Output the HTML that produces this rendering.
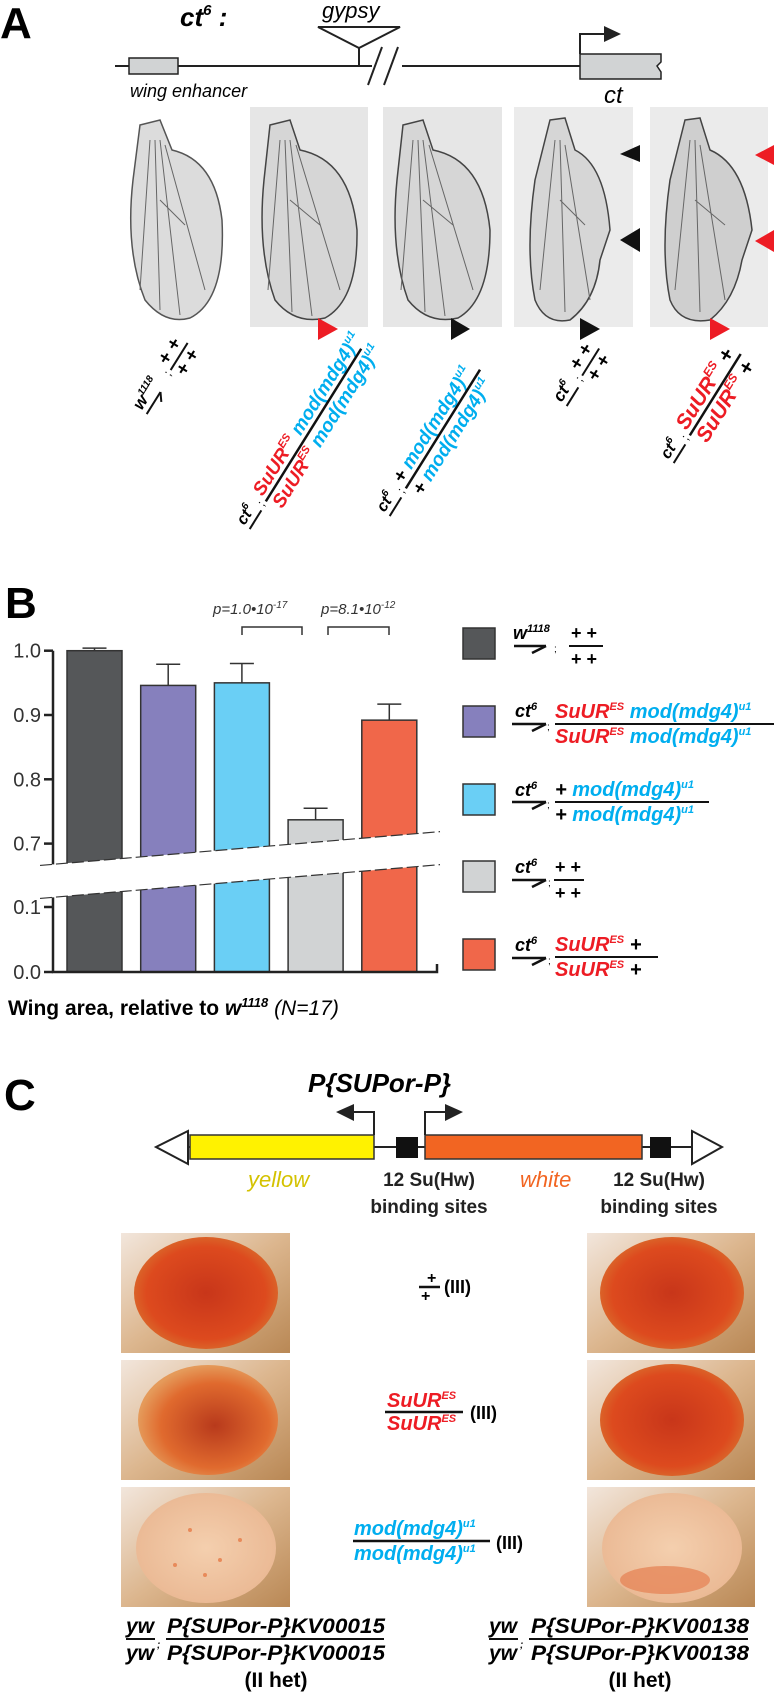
<!DOCTYPE html>
<html><head><meta charset="utf-8"><style>
html,body{margin:0;padding:0;background:#fff}
svg{display:block;font-family:"Liberation Sans",sans-serif}
.bi{font-weight:bold;font-style:italic}
.r{fill:#ed1c24}.c{fill:#00aeef}
</style></head><body>
<svg id="fig" width="774" height="1693" viewBox="0 0 774 1693" xmlns="http://www.w3.org/2000/svg">
<defs>
<radialGradient id="eyeRed" cx="50%" cy="50%" r="55%"><stop offset="0" stop-color="#c8361a"/><stop offset="0.75" stop-color="#dd4a1e"/><stop offset="1" stop-color="#d9702e"/></radialGradient>
<radialGradient id="eyeMid" cx="55%" cy="55%" r="55%"><stop offset="0" stop-color="#b83a1c"/><stop offset="0.7" stop-color="#e06a2e"/><stop offset="1" stop-color="#e59a5a"/></radialGradient>
<radialGradient id="eyePale" cx="50%" cy="50%" r="55%"><stop offset="0" stop-color="#f4cfae"/><stop offset="1" stop-color="#eab893"/></radialGradient>
<linearGradient id="bgEye" x1="0" y1="0" x2="1" y2="1"><stop offset="0" stop-color="#f2e6dc"/><stop offset="0.5" stop-color="#dcb68e"/><stop offset="1" stop-color="#b98855"/></linearGradient>
</defs>

<!-- ===== Panel A ===== -->
<g>
<text x="0" y="38" font-size="44" font-weight="bold">A</text>
<text x="180" y="26" class="bi" font-size="26">ct<tspan font-size="15" dy="-11">6</tspan><tspan dy="11"> :</tspan></text>
<text x="322" y="18" font-style="italic" font-size="22">gypsy</text>
<path d="M318 27 L400 27 L359 48 Z" fill="none" stroke="#222" stroke-width="2"/>
<line x1="359" y1="48" x2="359" y2="66" stroke="#222" stroke-width="2"/>
<line x1="115" y1="66" x2="580" y2="66" stroke="#222" stroke-width="2"/>
<rect x="372" y="58" width="30" height="18" fill="#fff"/>
<line x1="368" y1="85" x2="382" y2="47" stroke="#222" stroke-width="2"/>
<line x1="384" y1="85" x2="398" y2="47" stroke="#222" stroke-width="2"/>
<rect x="129" y="58" width="49" height="16" fill="#d1d3d4" stroke="#222" stroke-width="1.5"/>
<text x="130" y="97" font-style="italic" font-size="18">wing enhancer</text>
<path d="M580 54 L661 54 L661 62 L657 66 L661 72 L661 79 L580 79 Z" fill="#d1d3d4" stroke="#222" stroke-width="1.5"/>
<path d="M580 54 L580 34 L606 34" fill="none" stroke="#222" stroke-width="2"/>
<path d="M604 26 L621 34 L604 42 Z" fill="#222"/>
<text x="604" y="103" font-style="italic" font-size="24">ct</text>

<!-- wings -->
<g>
<path d="M140 125 L160 120 L172 150 Q215 160 222 220 Q226 300 190 318 Q165 325 145 300 Q125 250 133 180 Z" fill="#dcdcdc" stroke="#555" stroke-width="1.5"/>
<path d="M150 140 L140 290 M155 140 L160 310 M160 140 L180 315 M165 145 L205 290 M160 200 L185 225" stroke="#666" fill="none"/>
</g>
<g>
<rect x="250" y="107" width="118" height="220" fill="#e6e6e6"/>
<path d="M270 125 L290 120 L300 150 Q350 160 357 230 Q358 300 325 318 Q295 325 275 300 Q257 250 264 180 Z" fill="#d6d6d6" stroke="#444" stroke-width="1.5"/>
<path d="M280 140 L268 290 M285 140 L292 312 M290 140 L312 316 M296 145 L340 290 M290 200 L320 225" stroke="#666" fill="none"/>
</g>
<g>
<rect x="383" y="107" width="119" height="220" fill="#e6e6e6"/>
<path d="M403 125 L423 120 L433 150 Q483 160 490 230 Q490 300 458 318 Q428 325 408 300 Q390 250 397 180 Z" fill="#d6d6d6" stroke="#444" stroke-width="1.5"/>
<path d="M413 140 L401 290 M418 140 L425 312 M423 140 L445 316 M429 145 L473 290 M423 200 L453 225" stroke="#666" fill="none"/>
</g>
<g>
<rect x="514" y="107" width="119" height="220" fill="#ebebeb"/>
<path d="M550 120 L565 118 L575 150 Q605 165 610 230 L600 260 Q596 300 570 320 Q545 325 535 300 Q525 250 535 180 Z" fill="#d6d6d6" stroke="#444" stroke-width="1.5"/>
<path d="M555 140 L540 290 M560 140 L565 312 M565 145 L590 300 M560 200 L585 225" stroke="#666" fill="none"/>
<path d="M640 145 L620 154 L640 162 Z" fill="#111"/>
<path d="M640 228 L620 240 L640 252 Z" fill="#111"/>
</g>
<g>
<rect x="650" y="107" width="118" height="220" fill="#ebebeb"/>
<path d="M685 120 L700 118 L710 150 Q745 165 752 230 L742 260 Q735 300 710 320 Q680 325 670 300 Q660 250 670 180 Z" fill="#cfcfcf" stroke="#444" stroke-width="1.5"/>
<path d="M690 140 L675 290 M695 140 L700 312 M700 145 L725 300 M695 200 L725 225" stroke="#666" fill="none"/>
<path d="M774 145 L755 155 L774 165 Z" fill="#ed1c24"/>
<path d="M774 230 L755 241 L774 252 Z" fill="#ed1c24"/>
</g>
<path d="M318 318 L338 329 L318 340 Z" fill="#ed1c24"/>
<path d="M451 318 L470 329 L451 340 Z" fill="#111"/>
<path d="M580 318 L600 329 L580 340 Z" fill="#111"/>
<path d="M710 318 L730 329 L710 340 Z" fill="#ed1c24"/>

<!-- rotated genotype labels -->
<g transform="translate(145,413) rotate(-58)">
<text x="0" y="-4" class="bi" font-size="17">w<tspan font-size="10" dy="-7">1118</tspan></text>
<line x1="0" y1="2" x2="26" y2="2" stroke="#111" stroke-width="2"/><line x1="26" y1="2" x2="18" y2="8" stroke="#111" stroke-width="2"/>
<text x="44" y="2" font-size="12">;</text>
<text x="52" y="-6" font-weight="bold" font-size="19">+ +</text>
<line x1="50" y1="-1" x2="82" y2="-1" stroke="#111" stroke-width="2"/>
<text x="52" y="15" font-weight="bold" font-size="19">+ +</text>
</g>
<g transform="translate(248,528) rotate(-58)">
<text x="0" y="-4" class="bi" font-size="16">ct<tspan font-size="10" dy="-7">6</tspan></text>
<line x1="0" y1="2" x2="22" y2="2" stroke="#111" stroke-width="2"/>
<text x="26" y="2" font-size="12">;</text>
<text x="34" y="-4" class="bi" font-size="19"><tspan class="r">SuUR<tspan font-size="11" dy="-8">ES</tspan></tspan><tspan class="c" dy="8"> mod(mdg4)<tspan font-size="11" dy="-8">u1</tspan></tspan></text>
<line x1="32" y1="1" x2="212" y2="1" stroke="#111" stroke-width="2.5"/>
<text x="34" y="19" class="bi" font-size="19"><tspan class="r">SuUR<tspan font-size="11" dy="-8">ES</tspan></tspan><tspan class="c" dy="8"> mod(mdg4)<tspan font-size="11" dy="-8">u1</tspan></tspan></text>
</g>
<g transform="translate(388,515) rotate(-58)">
<text x="0" y="-4" class="bi" font-size="16">ct<tspan font-size="10" dy="-7">6</tspan></text>
<line x1="0" y1="2" x2="22" y2="2" stroke="#111" stroke-width="2"/>
<text x="26" y="2" font-size="12">;</text>
<text x="34" y="-4" class="bi" font-size="19"><tspan>+ </tspan><tspan class="c">mod(mdg4)<tspan font-size="11" dy="-8">u1</tspan></tspan></text>
<line x1="32" y1="1" x2="172" y2="1" stroke="#111" stroke-width="2.5"/>
<text x="34" y="19" class="bi" font-size="19"><tspan>+ </tspan><tspan class="c">mod(mdg4)<tspan font-size="11" dy="-8">u1</tspan></tspan></text>
</g>
<g transform="translate(565,405) rotate(-58)">
<text x="0" y="-4" class="bi" font-size="17">ct<tspan font-size="10" dy="-7">6</tspan></text>
<line x1="0" y1="2" x2="22" y2="2" stroke="#111" stroke-width="2"/>
<text x="28" y="2" font-size="12">;</text>
<text x="36" y="-6" font-weight="bold" font-size="19">+ +</text>
<line x1="34" y1="-1" x2="66" y2="-1" stroke="#111" stroke-width="2"/>
<text x="36" y="15" font-weight="bold" font-size="19">+ +</text>
</g>
<g transform="translate(672,462) rotate(-58)">
<text x="0" y="-4" class="bi" font-size="16">ct<tspan font-size="10" dy="-7">6</tspan></text>
<line x1="0" y1="2" x2="22" y2="2" stroke="#111" stroke-width="2"/>
<text x="26" y="2" font-size="12">;</text>
<text x="34" y="-4" class="bi" font-size="21"><tspan class="r">SuUR<tspan font-size="12" dy="-9">ES</tspan></tspan><tspan dy="9"> +</tspan></text>
<line x1="32" y1="1" x2="128" y2="1" stroke="#111" stroke-width="2.5"/>
<text x="34" y="20" class="bi" font-size="21"><tspan class="r">SuUR<tspan font-size="12" dy="-9">ES</tspan></tspan><tspan dy="9"> +</tspan></text>
</g>
</g>

<!-- ===== Panel B ===== -->
<g>
<text x="5" y="618" font-size="44" font-weight="bold">B</text>
<g id="chart"></g>
<text x="213" y="614" font-style="italic" font-size="15" fill="#333">p=1.0•10<tspan font-size="10" dy="-6">-17</tspan></text>
<path d="M242 635 L242 627 L302 627 L302 635" fill="none" stroke="#333" stroke-width="1.5"/>
<text x="321" y="614" font-style="italic" font-size="15" fill="#333">p=8.1•10<tspan font-size="10" dy="-6">-12</tspan></text>
<path d="M328 635 L328 627 L389 627 L389 635" fill="none" stroke="#333" stroke-width="1.5"/>
<text x="8" y="1015" font-weight="bold" font-size="21">Wing area, relative to <tspan font-style="italic">w<tspan font-size="13" dy="-8">1118</tspan></tspan><tspan dy="8" font-weight="normal" font-style="italic"> (N=17)</tspan></text>

<!-- legend -->
<g>
<g>
<rect x="463" y="628" width="32" height="31" fill="#555759" stroke="#333" stroke-width="1.5"/>
<text x="513" y="639" class="bi" font-size="18">w<tspan font-size="11" dy="-7">1118</tspan></text>
<line x1="514" y1="646" x2="546" y2="646" stroke="#111" stroke-width="2.5"/><line x1="546" y1="646" x2="532" y2="653" stroke="#111" stroke-width="2.5"/>
<text x="554" y="652" font-size="10">;</text>
<text x="571" y="639" font-weight="bold" font-size="18">+ +</text>
<line x1="569" y1="646" x2="603" y2="646" stroke="#111" stroke-width="2"/>
<text x="571" y="665" font-weight="bold" font-size="18">+ +</text>
</g>
<g>
<rect x="463" y="706" width="32" height="31" fill="#8680bd" stroke="#333" stroke-width="1.5"/>
<text x="515" y="717" class="bi" font-size="18">ct<tspan font-size="11" dy="-7">6</tspan></text>
<line x1="512" y1="724" x2="546" y2="724" stroke="#111" stroke-width="2.5"/><line x1="546" y1="724" x2="532" y2="731" stroke="#111" stroke-width="2.5"/>
<text x="547" y="730" font-size="10">;</text>
<text x="555" y="718" class="bi" font-size="20"><tspan class="r">SuUR<tspan font-size="11" dy="-8">ES</tspan></tspan><tspan class="c" dy="8"> mod(mdg4)<tspan font-size="11" dy="-8">u1</tspan></tspan></text>
<line x1="555" y1="724" x2="774" y2="724" stroke="#111" stroke-width="2"/>
<text x="555" y="743" class="bi" font-size="20"><tspan class="r">SuUR<tspan font-size="11" dy="-8">ES</tspan></tspan><tspan class="c" dy="8"> mod(mdg4)<tspan font-size="11" dy="-8">u1</tspan></tspan></text>
</g>
<g>
<rect x="463" y="784" width="32" height="31" fill="#6acff5" stroke="#333" stroke-width="1.5"/>
<text x="515" y="796" class="bi" font-size="18">ct<tspan font-size="11" dy="-7">6</tspan></text>
<line x1="512" y1="802" x2="546" y2="802" stroke="#111" stroke-width="2.5"/><line x1="546" y1="802" x2="532" y2="809" stroke="#111" stroke-width="2.5"/>
<text x="547" y="808" font-size="10">;</text>
<text x="555" y="796" class="bi" font-size="20">+ <tspan class="c">mod(mdg4)<tspan font-size="11" dy="-8">u1</tspan></tspan></text>
<line x1="555" y1="802" x2="709" y2="802" stroke="#111" stroke-width="2"/>
<text x="555" y="821" class="bi" font-size="20">+ <tspan class="c">mod(mdg4)<tspan font-size="11" dy="-8">u1</tspan></tspan></text>
</g>
<g>
<rect x="463" y="861" width="32" height="31" fill="#d1d3d4" stroke="#333" stroke-width="1.5"/>
<text x="515" y="873" class="bi" font-size="18">ct<tspan font-size="11" dy="-7">6</tspan></text>
<line x1="512" y1="880" x2="546" y2="880" stroke="#111" stroke-width="2.5"/><line x1="546" y1="880" x2="532" y2="887" stroke="#111" stroke-width="2.5"/>
<text x="548" y="886" font-size="10">;</text>
<text x="555" y="873" font-weight="bold" font-size="18">+ +</text>
<line x1="554" y1="880" x2="584" y2="880" stroke="#111" stroke-width="2"/>
<text x="555" y="899" font-weight="bold" font-size="18">+ +</text>
</g>
<g>
<rect x="463" y="939" width="32" height="31" fill="#f0674a" stroke="#333" stroke-width="1.5"/>
<text x="515" y="951" class="bi" font-size="18">ct<tspan font-size="11" dy="-7">6</tspan></text>
<line x1="512" y1="958" x2="546" y2="958" stroke="#111" stroke-width="2.5"/><line x1="546" y1="958" x2="532" y2="965" stroke="#111" stroke-width="2.5"/>
<text x="548" y="964" font-size="10">;</text>
<text x="555" y="951" class="bi" font-size="20"><tspan class="r">SuUR<tspan font-size="11" dy="-8">ES</tspan></tspan><tspan dy="8"> +</tspan></text>
<line x1="555" y1="957" x2="658" y2="957" stroke="#111" stroke-width="2"/>
<text x="555" y="976" class="bi" font-size="20"><tspan class="r">SuUR<tspan font-size="11" dy="-8">ES</tspan></tspan><tspan dy="8"> +</tspan></text>
</g>
</g>
</g>

<!-- ===== Panel C ===== -->
<g>
<text x="4" y="1110" font-size="44" font-weight="bold">C</text>
<text x="308" y="1092" class="bi" font-size="26">P{SUPor-P}</text>
<line x1="163" y1="1147" x2="715" y2="1147" stroke="#222" stroke-width="2"/>
<path d="M188 1131 L188 1164 L156 1147 Z" fill="#fff" stroke="#222" stroke-width="2"/>
<path d="M692 1131 L692 1164 L722 1147 Z" fill="#fff" stroke="#222" stroke-width="2"/>
<rect x="190" y="1135" width="184" height="24" fill="#fff200" stroke="#333" stroke-width="1.5"/>
<rect x="396" y="1137" width="22" height="21" fill="#111"/>
<rect x="425" y="1135" width="217" height="24" fill="#f26522" stroke="#333" stroke-width="1.5"/>
<rect x="650" y="1137" width="21" height="21" fill="#111"/>
<path d="M374 1135 L374 1112 L352 1112" fill="none" stroke="#222" stroke-width="2"/>
<path d="M354 1104 L336 1112 L354 1121 Z" fill="#222"/>
<path d="M425 1135 L425 1112 L447 1112" fill="none" stroke="#222" stroke-width="2"/>
<path d="M445 1104 L463 1112 L445 1121 Z" fill="#222"/>
<text x="248" y="1187" font-style="italic" font-size="22" fill="#d4c200">yellow</text>
<text x="520" y="1187" font-style="italic" font-size="22" fill="#f26522">white</text>
<g font-weight="bold" font-size="19" text-anchor="middle" fill="#222">
<text x="429" y="1186">12 Su(Hw)</text>
<text x="429" y="1213">binding sites</text>
<text x="659" y="1186">12 Su(Hw)</text>
<text x="659" y="1213">binding sites</text>
</g>

<!-- eyes -->
<g>
<g><rect x="121" y="1233" width="169" height="120" fill="url(#bgEye)"/><ellipse cx="206" cy="1293" rx="72" ry="56" fill="url(#eyeRed)"/></g>
<g><rect x="587" y="1233" width="168" height="120" fill="url(#bgEye)"/><ellipse cx="672" cy="1293" rx="72" ry="56" fill="url(#eyeRed)"/></g>
<g><rect x="121" y="1360" width="169" height="120" fill="url(#bgEye)"/><ellipse cx="208" cy="1420" rx="70" ry="55" fill="url(#eyeMid)"/></g>
<g><rect x="587" y="1360" width="168" height="120" fill="url(#bgEye)"/><ellipse cx="672" cy="1420" rx="72" ry="56" fill="url(#eyeRed)"/></g>
<g><rect x="121" y="1487" width="169" height="120" fill="url(#bgEye)"/><ellipse cx="206" cy="1548" rx="70" ry="55" fill="url(#eyePale)"/>
<circle cx="190" cy="1530" r="2" fill="#e88a5a"/><circle cx="220" cy="1560" r="2" fill="#e88a5a"/><circle cx="175" cy="1565" r="2" fill="#e88a5a"/><circle cx="240" cy="1540" r="2" fill="#e88a5a"/><circle cx="205" cy="1575" r="2" fill="#e88a5a"/></g>
<g><rect x="587" y="1487" width="168" height="120" fill="url(#bgEye)"/><ellipse cx="672" cy="1548" rx="70" ry="55" fill="url(#eyePale)"/><ellipse cx="665" cy="1580" rx="45" ry="14" fill="#e6875a" opacity="0.8"/></g>
</g>

<g>
<text x="427" y="1283" font-weight="bold" font-size="16">+</text>
<line x1="419" y1="1287" x2="440" y2="1287" stroke="#111" stroke-width="2.5"/>
<text x="421" y="1301" font-weight="bold" font-size="16">+</text>
<text x="444" y="1293" font-weight="bold" font-size="18">(III)</text>
</g>
<g>
<text x="387" y="1407" class="bi r" font-size="20">SuUR<tspan font-size="11" dy="-8">ES</tspan></text>
<line x1="385" y1="1412" x2="463" y2="1412" stroke="#111" stroke-width="2.5"/>
<text x="387" y="1430" class="bi r" font-size="20">SuUR<tspan font-size="11" dy="-8">ES</tspan></text>
<text x="470" y="1419" font-weight="bold" font-size="18">(III)</text>
</g>
<g>
<text x="354" y="1535" class="bi c" font-size="20">mod(mdg4)<tspan font-size="11" dy="-8">u1</tspan></text>
<line x1="353" y1="1541" x2="490" y2="1541" stroke="#111" stroke-width="2.5"/>
<text x="354" y="1560" class="bi c" font-size="20">mod(mdg4)<tspan font-size="11" dy="-8">u1</tspan></text>
<text x="496" y="1549" font-weight="bold" font-size="18">(III)</text>
</g>

<g class="bi" font-size="21">
<text x="126" y="1633">yw</text><line x1="126" y1="1639" x2="155" y2="1639" stroke="#111" stroke-width="2"/><text x="126" y="1660">yw</text>
<text x="157" y="1648" font-size="10">;</text>
<text x="167" y="1633" textLength="218" lengthAdjust="spacingAndGlyphs">P{SUPor-P}KV00015</text>
<line x1="166" y1="1639" x2="384" y2="1639" stroke="#111" stroke-width="2"/>
<text x="167" y="1660" textLength="218" lengthAdjust="spacingAndGlyphs">P{SUPor-P}KV00015</text>
<text x="276" y="1687" text-anchor="middle" font-style="normal" font-size="21">(II het)</text>
</g>
<g class="bi" font-size="21">
<text x="489" y="1633">yw</text><line x1="489" y1="1639" x2="518" y2="1639" stroke="#111" stroke-width="2"/><text x="489" y="1660">yw</text>
<text x="520" y="1648" font-size="10">;</text>
<text x="531" y="1633" textLength="218" lengthAdjust="spacingAndGlyphs">P{SUPor-P}KV00138</text>
<line x1="529" y1="1639" x2="748" y2="1639" stroke="#111" stroke-width="2"/>
<text x="531" y="1660" textLength="218" lengthAdjust="spacingAndGlyphs">P{SUPor-P}KV00138</text>
<text x="640" y="1687" text-anchor="middle" font-style="normal" font-size="21">(II het)</text>
</g>
</g>
</svg>
<script>
const categories = ["w1118", "SuUR mod", "mod", "ct6", "SuUR"];
const values = [1.0, 0.946, 0.95, 0.737, 0.892];
const errors = [0.004, 0.033, 0.03, 0.018, 0.025];
const colors = ["#555759", "#8680bd", "#6acff5", "#d1d3d4", "#f0674a"];
const upperTicks = [1.0, 0.9, 0.8, 0.7];
const upperTickLabels = ["1.0", "0.9", "0.8", "0.7"];
const lowerTicks = [0.1, 0.0];
const lowerTickLabels = ["0.1", "0.0"];

const NS = "http://www.w3.org/2000/svg";
const g = document.getElementById("chart");
const axisX = 53, axisEnd = 437, barW = 55, barStart = 67, barStep = 73.7;
function yU(v){ return 650.7 + (1 - v) * 643; }
function yL(v){ return 972 - v * 650; }
function xBar(i){ return barStart + i * barStep; }
function breakTop(x){ return 865 - 0.0845 * (x - 45); }
function breakBot(x){ return 898 - 0.0845 * (x - 45); }
function mk(tag, attrs){ const e = document.createElementNS(NS, tag); for (const k in attrs) e.setAttribute(k, attrs[k]); g.appendChild(e); return e; }

values.forEach((v, i) => {
  const x = xBar(i), top = yU(v);
  const r = mk("rect", {x: x, y: top, width: barW, height: 972 - top, fill: colors[i], stroke: "#333", "stroke-width": 1.5});
  
  
  const cx = x + barW / 2, ye = yU(v + errors[i]);
  const eb = mk("path", {d: `M${cx} ${top} L${cx} ${ye} M${cx-12} ${ye} L${cx+12} ${ye}`, stroke: "#333", "stroke-width": 1.5, fill: "none"});
  
  
});

const x0 = 40, x1 = 440;
const band = mk("path", {d: `M${x0} ${breakTop(x0)} L${x1} ${breakTop(x1)} L${x1} ${breakBot(x1)} L${x0} ${breakBot(x0)} Z`, fill: "#fff"});


mk("line", {x1: x0, y1: breakTop(x0), x2: x1, y2: breakTop(x1), stroke: "#333", "stroke-width": 1.2, "stroke-dasharray": "12 4"});
mk("line", {x1: x0, y1: breakBot(x0), x2: x1, y2: breakBot(x1), stroke: "#333", "stroke-width": 1.2, "stroke-dasharray": "12 4"});

const ya = mk("path", {d: `M${axisX} ${yU(1.0)} L${axisX} ${breakTop(axisX)} M${axisX} ${breakBot(axisX)} L${axisX} 972 L${axisEnd} 972 L${axisEnd} 964`, stroke: "#222", "stroke-width": 2.5, fill: "none"});


upperTicks.forEach((t, i) => {
  mk("line", {x1: 44, y1: yU(t), x2: axisX, y2: yU(t), stroke: "#222", "stroke-width": 2.5});
  const tx = mk("text", {x: 41, y: yU(t) + 7, "text-anchor": "end", "font-size": 20, fill: "#333"});
  tx.textContent = upperTickLabels[i];
  
  
});
lowerTicks.forEach((t, i) => {
  mk("line", {x1: 44, y1: yL(t), x2: axisX, y2: yL(t), stroke: "#222", "stroke-width": 2.5});
  const tx = mk("text", {x: 41, y: yL(t) + 7, "text-anchor": "end", "font-size": 20, fill: "#333"});
  tx.textContent = lowerTickLabels[i];
  
  
});
</script>
</body></html>
